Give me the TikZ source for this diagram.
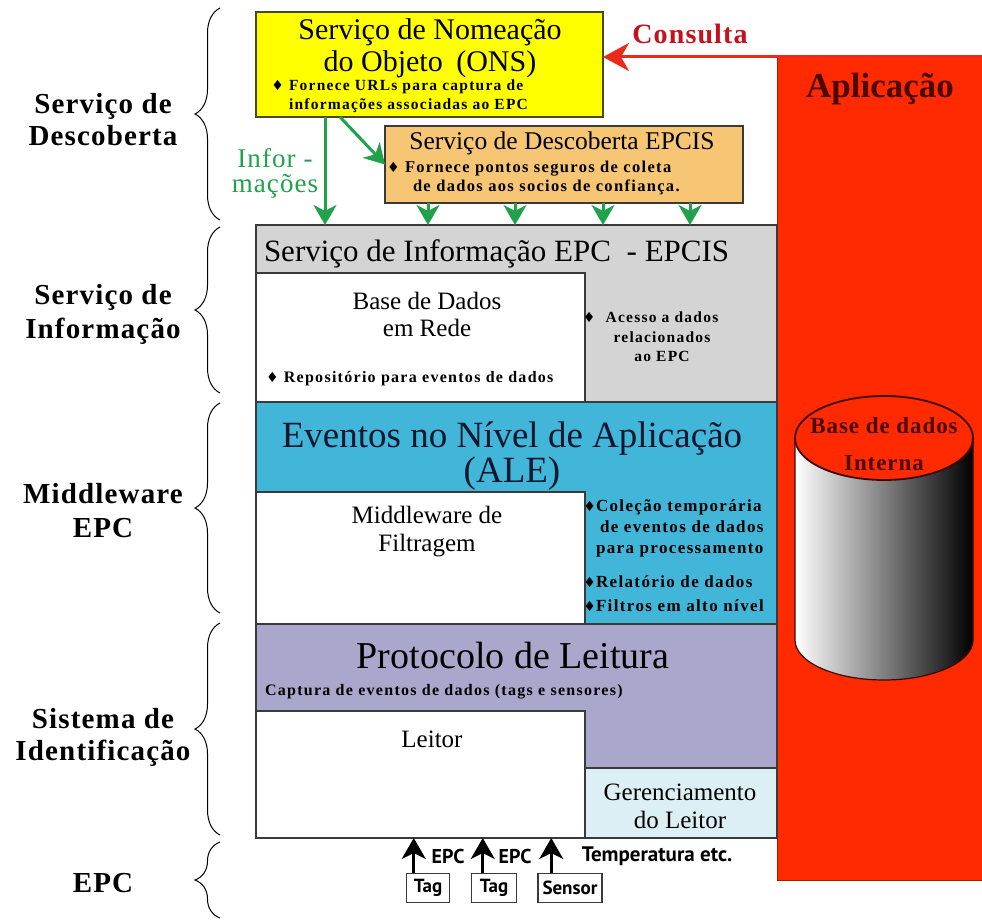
\documentclass[tikz,border=0pt]{standalone}
\usepackage{fontspec}
\setmainfont{Liberation Serif}
\newfontfamily\spaced[LetterSpace=4]{Liberation Serif}
\newfontfamily\wide[LetterSpace=8]{Liberation Serif}
\newfontfamily\symfont{DejaVu Sans}
\newfontfamily\tagfont{PT Sans}
\usetikzlibrary{arrows.meta,decorations.pathreplacing}

\definecolor{onsyellow}{HTML}{FFFF00}
\definecolor{onsedge}{HTML}{4A4A10}
\definecolor{discorange}{HTML}{F7C674}
\definecolor{infogray}{HTML}{D4D4D4}
\definecolor{alecyan}{HTML}{42B6D8}
\definecolor{rplilac}{HTML}{A9A7CB}
\definecolor{mgrblue}{HTML}{DCEFF4}
\definecolor{appred}{HTML}{FF2A00}
\definecolor{appedge}{HTML}{9A2000}
\definecolor{arrowred}{HTML}{EC2A1C}
\definecolor{consultared}{HTML}{C8101C}
\definecolor{arrowgreen}{HTML}{20A24A}
\definecolor{edgegray}{HTML}{3A3A3A}
\definecolor{cyldark}{HTML}{3A0800}
\definecolor{cyltext}{HTML}{4A0800}
\definecolor{aletext}{HTML}{0C1830}

\newcommand\setsz[1]{\fontsize{#1}{#1}\selectfont}
\newcommand\dmd{{\symfont\fontsize{14}{14}\selectfont ♦}}

\tikzset{
  layer/.style={draw=edgegray, line width=1.6pt, anchor=north west,
    inner sep=0pt, outer sep=0pt},
  txt/.style={inner sep=0pt, outer sep=0pt},
  greenarrow/.style={draw=arrowgreen, line width=3pt,
    -{Stealth[length=20pt, width=23pt, inset=6pt]}},
  blackarrow/.style={draw=black, line width=2.6pt,
    -{Stealth[length=21pt, width=24pt, inset=6pt]}},
  redarrow/.style={draw=arrowred, line width=3pt,
    -{Stealth[length=26pt, width=28pt, inset=8pt]}},
  layerbrace/.style={draw=black, line width=1pt, decorate,
    decoration={brace, amplitude=25pt}},
  sidelabel/.style={txt, font=\spaced\bfseries\setsz{29}, align=center},
  bullettext/.style={txt, font=\wide\bfseries\setsz{16}},
  tagbox/.style={draw=edgegray, line width=1.5pt, fill=white, inner sep=0pt,
    minimum height=29pt, font=\tagfont\bfseries\setsz{19}},
  taglabel/.style={txt, font=\tagfont\bfseries\setsz{20}},
}

\begin{document}
\begin{tikzpicture}[x=1pt, y=-1pt]
\useasboundingbox (0,0) rectangle (982,920);
\fill[white] (0,0) rectangle (982,920);

% application column with its internal database
\node[layer, draw=appedge, line width=1pt, fill=appred,
  minimum width=205pt, minimum height=823pt] (app) at (777,57) {};
\node[txt, font=\bfseries\setsz{35}, text=cyltext] (appT) at (880,89) {Aplicação};

\path[left color=white, right color=black, draw=cyldark, line width=1.2pt]
  (795,438) -- (795,640) arc[start angle=180, end angle=0, x radius=89, y radius=40]
  -- (973,438) -- cycle;
\draw[fill=appred, draw=cyldark, line width=1.8pt] (884,438) ellipse [x radius=89, y radius=42];
\node[txt, font=\spaced\bfseries\setsz{23}, text=cyltext, align=center]
  (cylT) at (884,444) {Base de dados\\[14pt]Interna};

% EPC information service layer
\node[layer, fill=infogray, minimum width=521pt, minimum height=177pt] (eis) at (256,225) {};
\node[layer, fill=white, minimum width=329pt, minimum height=129pt] (edb) at (256,273) {};
\node[txt, anchor=west, font=\setsz{31}] (eisT) at (264,254)
  {Serviço de Informação EPC\hspace{8pt} - EPCIS};
\node[txt, font=\setsz{25}, align=center] (edbT) at (427,314) {Base de Dados\\[2pt]em Rede};
\node[bullettext, anchor=west] (edbB) at (266,379) {\dmd\ Repositório para eventos de dados};
\node[bullettext, font=\wide\bfseries\setsz{15.5}, align=center] (eisB) at (662,337)
  {\llap{\dmd\ \ }Acesso a dados\\[4pt]relacionados\\[4pt]ao EPC};

% application level events layer
\node[layer, fill=alecyan, minimum width=521pt, minimum height=222pt] (ale) at (256,402) {};
\node[layer, fill=white, minimum width=329pt, minimum height=132pt] (mid) at (256,492) {};
\node[txt, font=\setsz{37}, text=aletext, align=center] (aleT) at (512,456)
  {Eventos no Nível de Aplicação\\[-2pt](ALE)};
\node[txt, font=\setsz{25}, align=center] (midT) at (427,532) {Middleware de\\[3pt]Filtragem};
\node[bullettext, font=\wide\bfseries\setsz{17}, anchor=west, align=left] (aleB1) at (596,528)
  {\llap{\dmd}Coleção temporária\\[4pt]\hspace*{4pt}de eventos de dados\\[4pt]para processamento};
\node[bullettext, font=\wide\bfseries\setsz{17}, anchor=west] (aleB2) at (596,582)
  {\llap{\dmd}Relatório de dados};
\node[bullettext, font=\wide\bfseries\setsz{17}, anchor=west] (aleB3) at (596,606)
  {\llap{\dmd}Filtros em alto nível};

% reader protocol layer
\node[layer, fill=rplilac, minimum width=521pt, minimum height=214pt] (rp) at (256,624) {};
\node[layer, fill=white, minimum width=329pt, minimum height=127pt] (leitor) at (256,711) {};
\node[layer, fill=mgrblue, minimum width=192pt, minimum height=70pt] (ger) at (585,768) {};
\node[txt, font=\setsz{38}] (rpT) at (513,655) {Protocolo de Leitura};
\node[bullettext, anchor=west] (rpB) at (265,692) {Captura de eventos de dados (tags e sensores)};
\node[txt, font=\setsz{25}] (leitT) at (432,739) {Leitor};
\node[txt, font=\setsz{25}, align=center] (gerT) at (680,806) {Gerenciamento\\[3pt]do Leitor};

% discovery services
\node[layer, draw=onsedge, line width=2pt, fill=onsyellow,
  minimum width=347pt, minimum height=105pt] (ons) at (256,12) {};
\node[txt, font=\setsz{30}, align=center] (onsT) at (430,48)
  {Serviço de Nomeação\\[2pt]do Objeto\hspace{6pt} (ONS)};
\node[bullettext, font=\wide\bfseries\setsz{15.5}, anchor=west, align=left] (onsB) at (289,96)
  {\llap{\dmd\ }Fornece URLs para captura de\\[3pt]informações associadas ao EPC};

\node[layer, fill=discorange, minimum width=358pt, minimum height=77pt] (disc) at (385,126) {};
\node[txt, font=\setsz{25.5}] (discT) at (562,143) {Serviço de Descoberta EPCIS};
\node[bullettext, font=\wide\bfseries\setsz{16.5}, anchor=west, align=left] (discB) at (405,178)
  {\llap{\dmd\ }Fornece pontos seguros de coleta\\[3pt]\hspace*{8pt}de dados aos socios de confiança.};

% query and information flows
\draw[redarrow] (app.north east) -- (app.north east -| ons.east);
\node[txt, font=\spaced\bfseries\setsz{28}, text=consultared] (consT) at (690,34) {Consulta};

\draw[greenarrow] ([xshift=69pt]ons.south west) -- ([xshift=69pt]ons.south west |- eis.north);
\draw[greenarrow] ([xshift=84pt]ons.south west) -- (disc.west);
\foreach \dx in {43,130,218,305}
  \draw[greenarrow] ([xshift=\dx pt]disc.south west) -- ([xshift=\dx pt]disc.south west |- eis.north);
\node[txt, font=\spaced\setsz{27}, text=arrowgreen, align=center] (inforT) at (275,173)
  {Infor -\\[-2pt]mações};

% tags and sensor feeding the reader
\node[tagbox, minimum width=43pt] (tag1) at (428,888) {Tag};
\node[tagbox, minimum width=45pt] (tag2) at (494,888) {Tag};
\node[tagbox, minimum width=64pt] (sensor) at (570,888) {Sensor};
\draw[blackarrow] ([xshift=8pt]tag1.north west) -- ([xshift=8pt]tag1.north west |- rp.south);
\draw[blackarrow] ([xshift=12pt]tag2.north west) -- ([xshift=12pt]tag2.north west |- rp.south);
\draw[blackarrow] ([xshift=14pt]sensor.north west) -- ([xshift=14pt]sensor.north west |- rp.south);
\node[taglabel] (epc1) at (448,856) {EPC};
\node[taglabel] (epc2) at (515,856) {EPC};
\node[taglabel, font=\tagfont\bfseries\setsz{21}] (tempT) at (657,856) {Temperatura etc.};

% layer braces and their names
\draw[layerbrace] (220,220) -- (220,8);
\draw[layerbrace] (220,393) -- (220,227);
\draw[layerbrace] (220,613) -- (220,403);
\draw[layerbrace] (220,835) -- (220,623);
\draw[layerbrace] (220,918) -- (220,842);
\node[sidelabel] (lab1) at (103,120) {Serviço de\\[3pt]Descoberta};
\node[sidelabel] (lab2) at (103,314) {Serviço de\\[5pt]Informação};
\node[sidelabel] (lab3) at (103,511) {Middleware\\[5pt]EPC};
\node[sidelabel] (lab4) at (103,737) {Sistema de\\[3pt]Identificação};
\node[sidelabel] (lab5) at (103,883) {EPC};
\end{tikzpicture}
\end{document}
